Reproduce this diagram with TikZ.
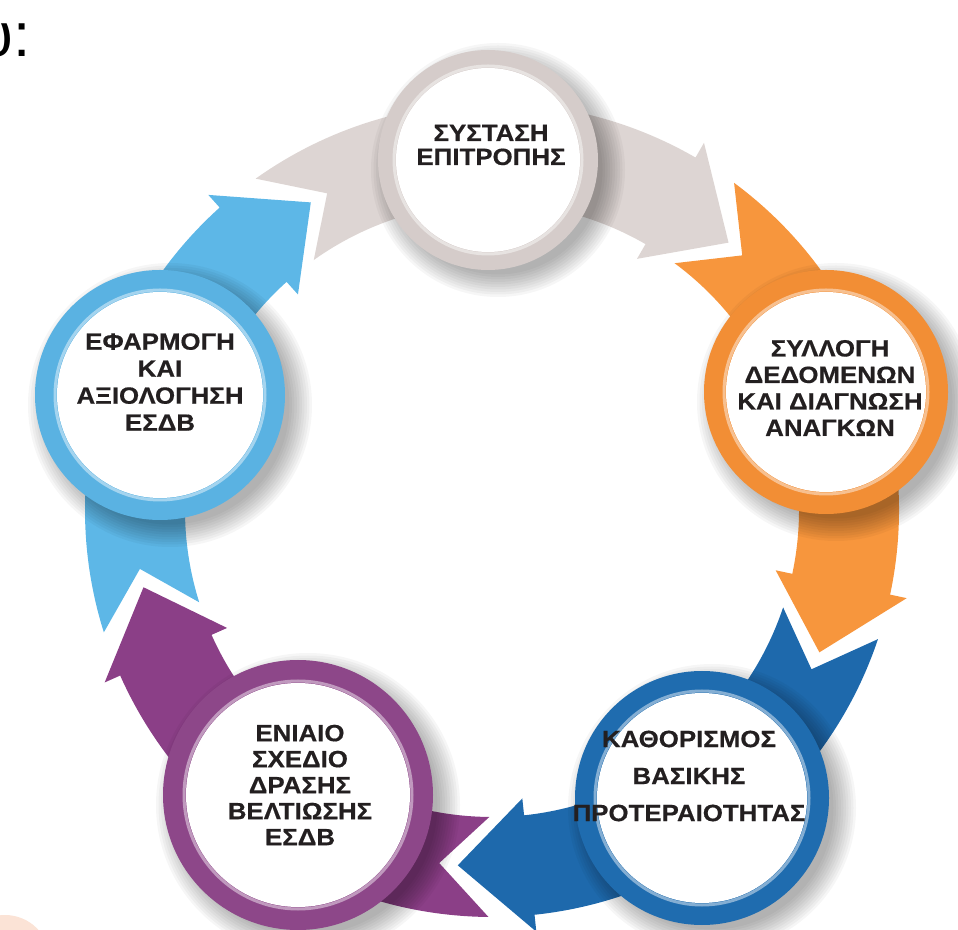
\documentclass[tikz,border=0pt]{standalone}
\usepackage{fontspec}
\setmainfont{Liberation Sans}
\newfontfamily\stagefont{Liberation Sans}[FakeStretch=1.1, BoldFeatures={FakeBold=0.5}]
\usepackage{tikz}
\usetikzlibrary{calc}

\definecolor{graybd}{HTML}{DDD5D3}
\definecolor{grayrg}{HTML}{D5CCCA}
\definecolor{orangebd}{HTML}{F7963D}
\definecolor{orangerg}{HTML}{F28E35}
\definecolor{bluebd}{HTML}{1E69AC}
\definecolor{bluerg}{HTML}{1F6CAF}
\definecolor{purplebd}{HTML}{8B3F87}
\definecolor{purplerg}{HTML}{8D4789}
\definecolor{lightbd}{HTML}{5DB7E7}
\definecolor{lightrg}{HTML}{5AB2E2}
\definecolor{txt}{HTML}{231F20}
\definecolor{peach}{HTML}{FBE3D6}

\tikzset{
  stage/.style={align=center, text=txt, inner sep=0pt,
    font=\stagefont\bfseries\fontsize{23.5}{#1}\selectfont}
}

\begin{document}
\begin{tikzpicture}[x=1pt,y=1pt]
\useasboundingbox (0,0) rectangle (958,929);
\clip (0,0) rectangle (958,929);
\coordinate (C) at (492,419);

% cut-off bits at the edges
\fill[peach] (5,-31) circle (45);
\node[anchor=base west, inner sep=0pt, font=\fontsize{62}{62}\selectfont] (word) at (-21,872) {υ:};

% curved arrows
\begin{scope}[shift={(C)}]
  \foreach \ja/\col in {126/graybd, 54/orangebd, -18/bluebd, -90/purplebd, 198/lightbd}{
    \pgfmathsetmacro\ta{\ja-0.5}
    \pgfmathsetmacro\tn{\ja-8.5}
    \pgfmathsetmacro\hb{\ja-66}
    \pgfmathsetmacro\ht{\ja-77.5}
    \fill[\col] (\ta:407) -- (\tn:357) -- (\ta:307)
      arc[start angle=\ta, end angle=\hb, radius=307]
      -- (\hb:290) -- (\ht:357) -- (\hb:424) -- (\hb:407)
      arc[start angle=\hb, end angle=\ta, radius=407] -- cycle;
  }
\end{scope}

% rings with soft shadow
\foreach \px/\py/\ro/\ri/\col in {488/769/110/92/grayrg, 826/537/122/100/orangerg,
    702/131/127/105/bluerg, 298/134/135/112/purplerg, 160/534/125/103/lightrg}{
  \foreach \k in {1,...,10}
    \fill[black, opacity=0.035] (\px+10,\py-10) circle (\ro-8+\k*2.5);
  \fill[\col] (\px,\py) circle (\ro);
  \draw[white, opacity=0.45, line width=3] (\px,\py) circle (\ri+2);
  \fill[white] (\px,\py) circle (\ri);
}

% labels
\node[stage=24] (systasi) at (491,784) {ΣΥΣΤΑΣΗ\\ΕΠΙΤΡΟΠΗΣ};
\node[stage=26.5] (syllogi) at (830,541) {ΣΥΛΛΟΓΗ\\ΔΕΔΟΜΕΝΩΝ\\ΚΑΙ ΔΙΑΓΝΩΣΗ\\ΑΝΑΓΚΩΝ};
\node[stage=37] (kathorismos) at (689,153) {ΚΑΘΟΡΙΣΜΟΣ\\ΒΑΣΙΚΗΣ\\ΠΡΟΤΕΡΑΙΟΤΗΤΑΣ};
\node[stage=26] (sxedio) at (300,144) {ΕΝΙΑΙΟ\\ΣΧΕΔΙΟ\\ΔΡΑΣΗΣ\\ΒΕΛΤΙΩΣΗΣ\\ΕΣΔΒ};
\node[stage=27] (efarmogi) at (160,547) {ΕΦΑΡΜΟΓΗ\\ΚΑΙ\\ΑΞΙΟΛΟΓΗΣΗ\\ΕΣΔΒ};
\end{tikzpicture}
\end{document}
